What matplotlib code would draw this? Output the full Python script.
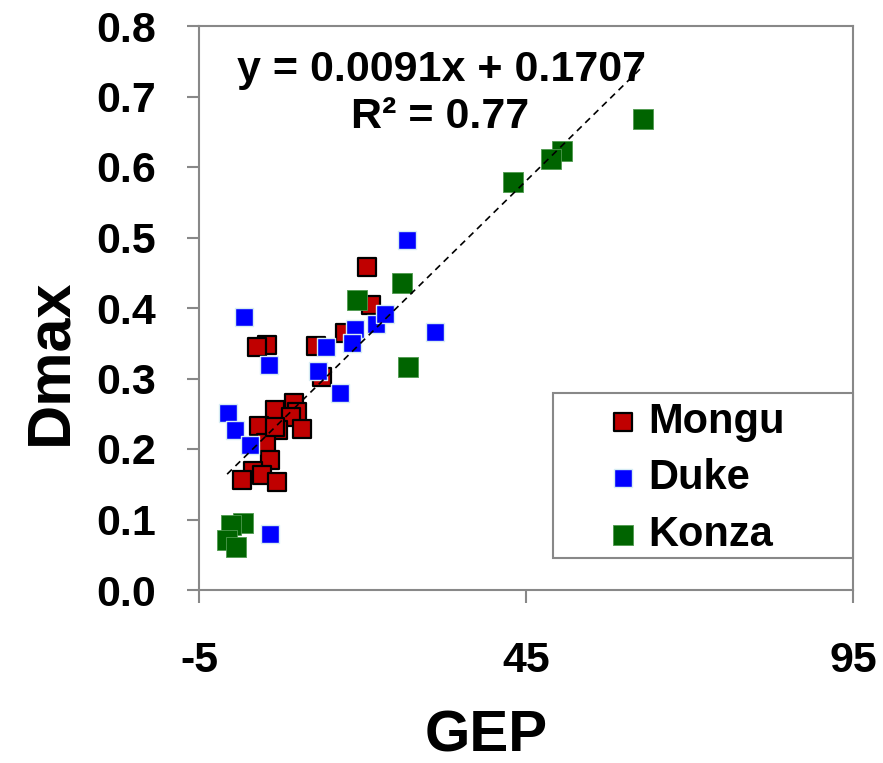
import numpy as np
import matplotlib
matplotlib.use('Agg')
import matplotlib.pyplot as plt
from matplotlib.patches import Rectangle

plt.rcParams['font.family'] = ['Liberation Sans', 'DejaVu Sans']
plt.rcParams['font.weight'] = 'bold'
plt.rcParams['axes.unicode_minus'] = False

# data
mongu_x = [20.7, 21.3, 17.3, 12.9, 5.4, 3.9, 13.8, 9.5, 10.0, 6.6, 9.1, 10.7, 7.1,
           4.2, 5.2, 5.9, 3.3, 4.6, 1.6, 6.9, 6.6]
mongu_y = [0.458, 0.404, 0.364, 0.346, 0.348, 0.345, 0.302, 0.265, 0.252, 0.255, 0.245,
           0.229, 0.227, 0.233, 0.209, 0.184, 0.169, 0.163, 0.156, 0.153, 0.231]
duke_x = [26.8, 1.9, 5.7, -0.6, 0.5, 2.8, 5.9, 14.4, 13.2, 16.6, 18.9, 18.4, 22.1, 23.4, 31.1]
duke_y = [0.496, 0.387, 0.319, 0.251, 0.227, 0.206, 0.079, 0.345, 0.311, 0.279, 0.370,
          0.350, 0.377, 0.391, 0.366]
konza_x = [62.9, 50.5, 48.8, 43.0, 26.0, 19.2, 27.0, 1.7, -0.1, -0.7, 0.7]
konza_y = [0.668, 0.623, 0.611, 0.579, 0.435, 0.411, 0.316, 0.095, 0.092, 0.071, 0.061]

slope, intercept = 0.0091, 0.1707
r2 = 0.77
x_ticks = [-5, 45, 95]
y_ticks = [0.0, 0.1, 0.2, 0.3, 0.4, 0.5, 0.6, 0.7, 0.8]

fig = plt.figure(figsize=(8.83, 7.63), dpi=100)
W, H = 883, 763
ax = fig.add_axes([199 / W, 1 - 590 / H, (853 - 199) / W, (590 - 26) / H])

ax.scatter(mongu_x, mongu_y, marker='s', s=13.2 ** 2, color='#C00000',
           edgecolors='black', linewidths=1.6, zorder=3, label='Mongu')
ax.scatter(duke_x, duke_y, marker='s', s=12.5 ** 2, color='#0000FF',
           edgecolors='#d6ecf3', linewidths=1.0, zorder=4, label='Duke')
ax.scatter(konza_x, konza_y, marker='s', s=14.5 ** 2, color='#006400',
           edgecolors='#4f9a4f', linewidths=0.6, zorder=5, label='Konza')

# trend line over the data range
all_x = np.array(mongu_x + duke_x + konza_x)
xl = np.array([all_x.min(), all_x.max()])
ax.plot(xl, slope * xl + intercept, color='black', linestyle=(0, (4, 3)),
        linewidth=1.2, zorder=6)

ax.set_xlim(-5, 95)
ax.set_ylim(0, 0.8)
ax.set_xticks(x_ticks)
ax.set_yticks(y_ticks)
ax.set_yticklabels([f'{v:.1f}' for v in y_ticks])
ax.tick_params(axis='both', direction='out', length=9, width=1.5, color='#888888',
               labelsize=31)
ax.tick_params(axis='y', pad=22)
ax.tick_params(axis='x', pad=28)
for lab in ax.get_xticklabels() + ax.get_yticklabels():
    lab.set_fontweight('bold')
for sp in ax.spines.values():
    sp.set_color('#888888')
    sp.set_linewidth(1.5)

# equation text
fig.text(442 / W, 1 - 81 / H, f'y = {slope}x + {intercept}', ha='center',
         va='baseline', fontsize=31, fontweight='bold')
fig.text(440 / W, 1 - 128 / H, f'R² = {r2}', ha='center', va='baseline',
         fontsize=31, fontweight='bold')

# axis titles
fig.text(486 / W, 1 - 751 / H, 'GEP', ha='center', va='baseline',
         fontsize=42, fontweight='bold')
fig.text(66 / W, 1 - 362 / H, 'Dmax', ha='center', va='baseline', rotation=90,
         rotation_mode='anchor', fontsize=44, fontweight='bold')

# legend box
ax.add_patch(Rectangle((354 / 654, 32 / 564), 300 / 654, 165 / 564,
                       transform=ax.transAxes, facecolor='white',
                       edgecolor='#888888', linewidth=1.5, zorder=7, clip_on=False))
leg = ax.legend(loc='upper left', bbox_to_anchor=((602 - 199) / 654, (590 - 402) / 564),
                frameon=False, handlelength=1.0, handletextpad=0.1,
                borderpad=0, borderaxespad=0, labelspacing=0.39, scatterpoints=1,
                prop={'weight': 'bold', 'size': 30})
leg.set_zorder(8)

fig.savefig('out.png', dpi=100)
